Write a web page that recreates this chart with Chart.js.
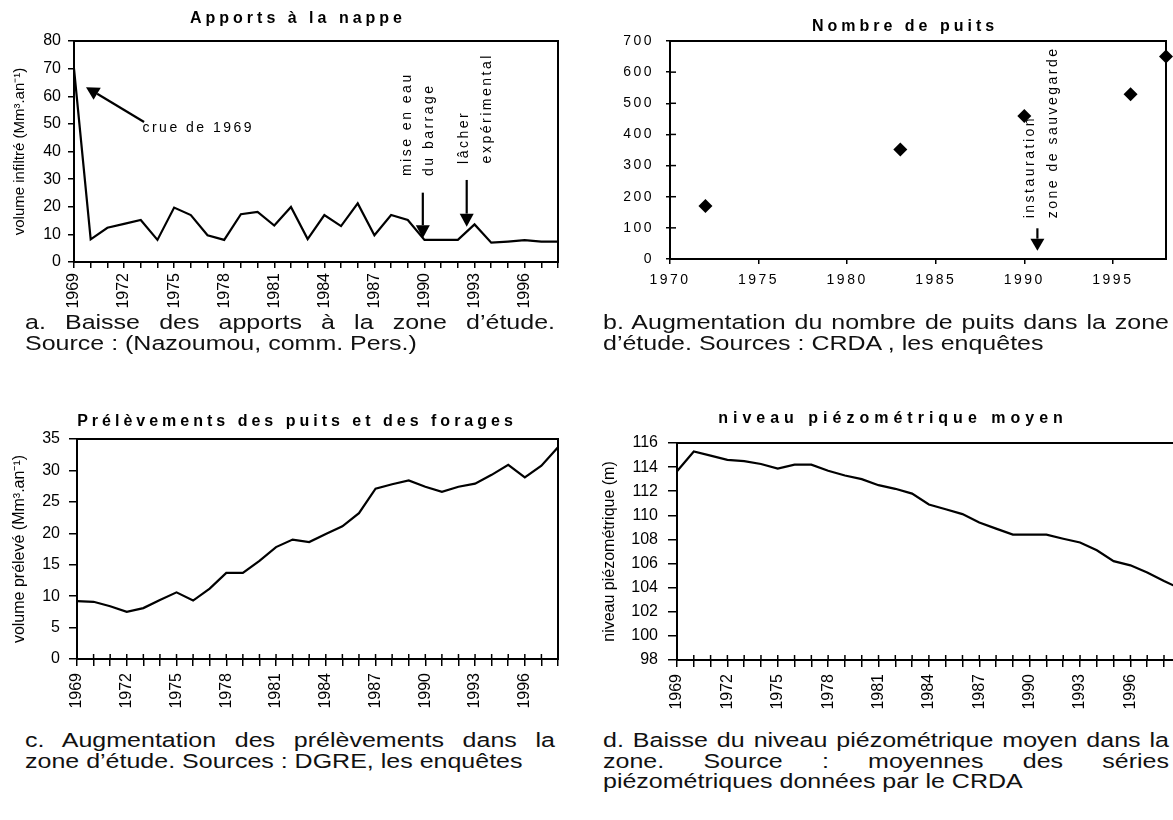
<!DOCTYPE html>
<html><head><meta charset="utf-8">
<script src="https://cdn.jsdelivr.net/npm/chart.js@4.4.1/dist/chart.umd.min.js"></script>
<style>
html,body{margin:0;padding:0;background:#fff;}
body{width:1173px;height:820px;overflow:hidden;position:relative;font-family:"Liberation Sans",Arial,sans-serif;color:#000;}
.box{position:absolute;}
.title{position:absolute;font-weight:bold;font-size:16px;white-space:nowrap;text-align:center;line-height:20px;width:600px;z-index:2;}
.cap{position:absolute;font-size:25px;line-height:25px;transform:scaleY(0.82);transform-origin:0 0;color:#111;z-index:3;}
.cap .j{text-align:justify;text-align-last:justify;}
.cap div{white-space:nowrap;}
</style></head><body>
<div class="box" style="left:0;top:0;width:590px;height:320px"><canvas id="cA" width="590" height="320"></canvas></div>
<div class="box" style="left:590px;top:0;width:583px;height:300px"><canvas id="cB" width="583" height="300"></canvas></div>
<div class="box" style="left:0;top:400px;width:590px;height:320px"><canvas id="cC" width="590" height="320"></canvas></div>
<div class="box" style="left:590px;top:400px;width:617px;height:320px"><canvas id="cD" width="617" height="320"></canvas></div>

<div class="title" style="left:-2px;top:8px;letter-spacing:4px">Apports à la nappe</div>
<div class="title" style="left:605px;top:16px;letter-spacing:4px">Nombre de puits</div>
<div class="title" style="left:-3px;top:411px;letter-spacing:4px">Prélèvements des puits et des forages</div>
<div class="title" style="left:593px;top:408px;letter-spacing:5px">niveau piézométrique moyen</div>

<div class="cap" style="left:25px;top:312px;width:530px">
  <div class="j">a. Baisse des apports à la zone d’étude.</div>
  <div>Source&nbsp;: (Nazoumou, comm. Pers.)</div>
</div>
<div class="cap" style="left:603px;top:312px;width:566px">
  <div class="j">b. Augmentation du nombre de puits dans la zone</div>
  <div>d’étude. Sources&nbsp;: CRDA , les enquêtes</div>
</div>
<div class="cap" style="left:25px;top:730px;width:530px">
  <div class="j">c. Augmentation des prélèvements dans la</div>
  <div>zone d’étude. Sources&nbsp;: DGRE, les enquêtes</div>
</div>
<div class="cap" style="left:603px;top:730px;width:566px">
  <div class="j">d. Baisse du niveau piézométrique moyen dans la</div>
  <div class="j">zone. Source&nbsp;: moyennes des séries</div>
  <div>piézométriques données par le CRDA</div>
</div>

<script>
// ---------- data ----------
const years = ['1969','1970','1971','1972','1973','1974','1975','1976','1977','1978',
               '1979','1980','1981','1982','1983','1984','1985','1986','1987','1988',
               '1989','1990','1991','1992','1993','1994','1995','1996','1997','1998'];
const yearsPiezo = ['1969','1970','1971','1972','1973','1974','1975','1976','1977','1978',
               '1979','1980','1981','1982','1983','1984','1985','1986','1987','1988',
               '1989','1990','1991','1992','1993','1994','1995','1996','1997','1998','1999'];
const shownYearLabels = ['1969','1972','1975','1978','1981','1984','1987','1990','1993','1996'];
const apports = [70, 8.2, 12.4, 13.8, 15.2, 8, 19.7, 17, 9.7, 8,
                 17.3, 18.1, 13.2, 19.9, 8.3, 17, 13, 21.2, 9.7, 17,
                 15.2, 8, 8, 8, 13.6, 7, 7.4, 7.9, 7.4, 7.4];
const prelevements = [9.2, 9.1, 8.4, 7.5, 8.1, 9.4, 10.6, 9.3, 11.2, 13.7,
                      13.7, 15.6, 17.8, 19.0, 18.6, 19.9, 21.1, 23.2, 27.1, 27.8,
                      28.4, 27.4, 26.6, 27.4, 27.9, 29.3, 30.9, 28.9, 30.75, 33.7];
const piezo = [113.65, 115.3, 114.95, 114.6, 114.5, 114.26, 113.87, 114.2, 114.2, 113.7,
               113.3, 113.0, 112.5, 112.2, 111.8, 110.9, 110.5, 110.1, 109.4, 108.9,
               108.4, 108.4, 108.4, 108.06, 107.75, 107.1, 106.2, 105.85, 105.25, 104.55, 103.9];
const wellYears = [1972, 1983, 1990, 1996, 1998];
const wellCounts = [170, 352, 459, 529, 650];
const wellTickYears = [1970, 1975, 1980, 1985, 1990, 1995];

// ---------- plugins ----------
const FAM = "'Liberation Sans', Arial, sans-serif";
const NARROW = "'Liberation Sans Narrow', 'Arial Narrow', 'Liberation Sans', Arial, sans-serif";
Chart.defaults.font.family = FAM;
Chart.defaults.color = '#000';

const framePlugin = {
  id: 'frame',
  beforeDatasetsDraw(chart, args, opts) {
    const {ctx, chartArea: a} = chart;
    ctx.save();
    ctx.strokeStyle = '#000';
    ctx.lineWidth = 2;
    ctx.strokeRect(a.left, a.top, a.right - a.left, a.bottom - a.top);
    ctx.lineWidth = 1.5;
    if (opts.innerX) {
      const s = chart.scales.x;
      s.ticks.forEach((t, i) => {
        const p = s.getPixelForTick(i);
        ctx.beginPath(); ctx.moveTo(p, a.bottom); ctx.lineTo(p, a.bottom - opts.innerX); ctx.stroke();
      });
    }
    if (opts.innerY) {
      const s = chart.scales.y;
      s.ticks.forEach((t, i) => {
        const p = s.getPixelForTick(i);
        ctx.beginPath(); ctx.moveTo(a.left, p); ctx.lineTo(a.left + opts.innerY, p); ctx.stroke();
      });
    }
    ctx.restore();
  }
};

const notesPlugin = {
  id: 'notes',
  afterDatasetsDraw(chart, args, opts) {
    if (!opts || !opts.items) return;
    const {ctx} = chart;
    const xs = chart.scales.x, ys = chart.scales.y;
    ctx.save();
    ctx.fillStyle = '#000';
    ctx.strokeStyle = '#000';
    for (const it of opts.items) {
      if (it.type === 'text') {
        const px = xs.getPixelForValue(it.x), py = ys.getPixelForValue(it.y);
        ctx.save();
        ctx.font = opts.font;
        ctx.letterSpacing = opts.spacing;
        ctx.textBaseline = 'middle';
        ctx.textAlign = 'left';
        ctx.translate(px, py);
        if (it.vertical) ctx.rotate(-Math.PI / 2);
        ctx.fillText(it.text, 0, 0);
        ctx.restore();
      } else {
        const x0 = xs.getPixelForValue(it.x0), y0 = ys.getPixelForValue(it.y0);
        const x1 = xs.getPixelForValue(it.x1), y1 = ys.getPixelForValue(it.y1);
        const ang = Math.atan2(y1 - y0, x1 - x0);
        const L = opts.headLength, W = opts.headWidth;
        const bx = x1 - L * Math.cos(ang), by = y1 - L * Math.sin(ang);
        ctx.lineWidth = 2.2;
        ctx.beginPath(); ctx.moveTo(x0, y0); ctx.lineTo(bx, by); ctx.stroke();
        ctx.beginPath();
        ctx.moveTo(x1, y1);
        ctx.lineTo(bx + W * Math.sin(ang), by - W * Math.cos(ang));
        ctx.lineTo(bx - W * Math.sin(ang), by + W * Math.cos(ang));
        ctx.closePath(); ctx.fill();
      }
    }
    ctx.restore();
  }
};

function spacingPlugin(px) {
  return {
    id: 'spacing',
    beforeUpdate(chart) { chart.ctx.letterSpacing = px; },
    beforeDraw(chart) { chart.ctx.letterSpacing = px; }
  };
}

function lineChart(id, labels, values, o) {
  return new Chart(document.getElementById(id), {
    type: 'line',
    data: {
      labels: labels,
      datasets: [{
        data: values, borderColor: '#000', borderWidth: 2.2, pointRadius: 0,
        tension: 0, fill: false
      }]
    },
    plugins: [framePlugin, notesPlugin],
    options: {
      responsive: false, animation: false, events: [],
      layout: {padding: {top: o.top, right: o.right, left: 0, bottom: 0}},
      plugins: {
        legend: {display: false}, tooltip: {enabled: false}, title: {display: false},
        frame: {innerX: o.innerX || 0, innerY: 0},
        notes: o.notes || {}
      },
      scales: {
        x: {
          type: 'category', offset: false,
          grid: {display: true, drawOnChartArea: false, drawTicks: true, tickLength: o.xTick, color: '#000', lineWidth: 1.5},
          border: {display: true, color: '#000', width: 2},
          ticks: {
            autoSkip: false, maxRotation: 90, minRotation: 90, padding: o.xPad, color: '#000',
            font: {family: NARROW, size: 16},
            callback: function (v) {
              const lab = this.getLabelForValue(v);
              return shownYearLabels.includes(lab) ? lab : '';
            }
          },
          afterFit(s) { s.height = o.xH; }
        },
        y: {
          min: o.min, max: o.max,
          grid: {display: true, drawOnChartArea: false, drawTicks: true, tickLength: o.yTick, color: '#000', lineWidth: 1.5},
          border: {display: true, color: '#000', width: 2},
          ticks: {stepSize: o.step, padding: o.yPad, color: '#000', font: {family: FAM, size: 16}},
          title: {display: true, text: o.yTitle, color: '#000', font: {family: FAM, size: o.yTitleSize},
                  padding: {top: o.yTitlePad, bottom: 0}},
          afterFit(s) { s.width = o.yW; }
        }
      }
    }
  });
}

// ---------- chart a ----------
lineChart('cA', years, apports, {
  top: 41, right: 32, xH: 58, yW: 74, xTick: 6, xPad: 5, yTick: 6, yPad: 7,
  min: 0, max: 80, step: 10,
  yTitle: 'volume infiltré (Mm³.an⁻¹)', yTitleSize: 15, yTitlePad: 11,
  notes: {
    font: "14px " + FAM, spacing: '2.5px', headLength: 13, headWidth: 7,
    items: [
      {type: 'text', text: 'crue de 1969', x: 4.1, y: 48.6},
      {type: 'arrow', x0: 4.2, y0: 50.7, x1: 0.72, y1: 63.3},
      {type: 'text', text: 'mise en eau', x: 19.98, y: 31.1, vertical: true},
      {type: 'text', text: 'du barrage', x: 21.27, y: 31.1, vertical: true},
      {type: 'arrow', x0: 20.9, y0: 25.1, x1: 20.9, y1: 8.6},
      {type: 'text', text: 'lâcher', x: 23.38, y: 35.5, vertical: true},
      {type: 'text', text: 'expérimental', x: 24.77, y: 35.7, vertical: true},
      {type: 'arrow', x0: 23.53, y0: 29.7, x1: 23.53, y1: 12.8}
    ]
  }
});

// ---------- chart b ----------
new Chart(document.getElementById('cB'), {
  type: 'scatter',
  data: {
    datasets: [{
      data: wellYears.map((x, i) => ({x: x, y: wellCounts[i]})),
      pointStyle: 'rectRot', pointRadius: 7, backgroundColor: '#000', borderColor: '#000',
      borderWidth: 0, clip: false
    }]
  },
  plugins: [framePlugin, notesPlugin, spacingPlugin('2.5px')],
  options: {
    responsive: false, animation: false, events: [],
    layout: {padding: {top: 41, right: 5, left: 0, bottom: 0}},
    plugins: {
      legend: {display: false}, tooltip: {enabled: false}, title: {display: false},
      frame: {innerX: 0, innerY: 6},
      notes: {
        font: "14px " + FAM, spacing: '2.5px', headLength: 12, headWidth: 7,
        items: [
          {type: 'text', text: 'instauration', x: 1990.33, y: 130.7, vertical: true},
          {type: 'text', text: 'zone de sauvegarde', x: 1991.62, y: 130.7, vertical: true},
          {type: 'arrow', x0: 1990.74, y0: 98.6, x1: 1990.74, y1: 26.7}
        ]
      }
    },
    scales: {
      x: {
        type: 'linear', min: 1970, max: 1998,
        afterBuildTicks(s) { s.ticks = wellTickYears.map(v => ({value: v})); },
        grid: {display: true, drawOnChartArea: false, drawTicks: true, tickLength: 5, color: '#000', lineWidth: 1.5},
        border: {display: true, color: '#000', width: 2},
        ticks: {padding: 8, color: '#000', font: {family: FAM, size: 14}, callback: v => String(v)},
        afterFit(s) { s.height = 41; }
      },
      y: {
        min: 0, max: 700,
        grid: {display: true, drawOnChartArea: false, drawTicks: true, tickLength: 4, color: '#000', lineWidth: 1.5},
        border: {display: true, color: '#000', width: 2},
        ticks: {stepSize: 100, padding: 12, color: '#000', font: {family: FAM, size: 14}},
        afterFit(s) { s.width = 80; }
      }
    }
  }
});

// ---------- chart c ----------
lineChart('cC', years, prelevements, {
  top: 39, right: 32, xH: 61, yW: 77, xTick: 7, xPad: 7, yTick: 8, yPad: 9, innerX: 5,
  min: 0, max: 35, step: 5,
  yTitle: 'volume prélevé (Mm³.an⁻¹)', yTitleSize: 16, yTitlePad: 10
});

// ---------- chart d ----------
lineChart('cD', yearsPiezo, piezo, {
  top: 43, right: 20, xH: 60, yW: 87, xTick: 7, xPad: 7, yTick: 9, yPad: 10, innerX: 5,
  min: 98, max: 116, step: 2,
  yTitle: 'niveau piézométrique (m)', yTitleSize: 16, yTitlePad: 10
});
</script>
</body></html>
